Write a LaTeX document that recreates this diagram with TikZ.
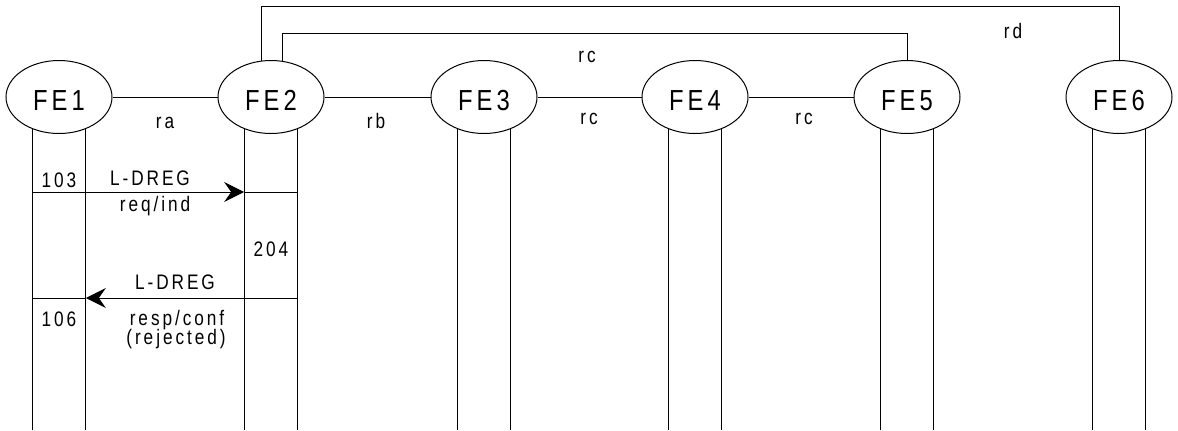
\documentclass[tikz,border=0pt]{standalone}
\usepackage{fontspec}
\setmainfont{Liberation Sans}[FakeStretch=0.82,LetterSpace=14]
\usetikzlibrary{shapes.geometric,arrows.meta}
\begin{document}
\begin{tikzpicture}[x=0.5pt,y=-0.5pt,
  fe/.style={draw, ellipse, line width=0.5pt, minimum width=53pt, minimum height=36.5pt,
             inner sep=0pt, text height=13.4pt, text depth=0pt,
             font=\fontsize{14.5}{17}\selectfont},
  lbl/.style={anchor=base, inner sep=0pt, font=\fontsize{10.5}{12}\selectfont},
  wire/.style={line width=0.5pt},
  msg/.style={line width=0.5pt, -{Stealth[length=10pt,width=10pt,inset=3.5pt]}}]
\useasboundingbox (0,0) rectangle (1178,430);

% functional entities
\node[fe] (fe1) at (59,97)   {FE1};
\node[fe] (fe2) at (271,97)  {FE2};
\node[fe] (fe3) at (484,97)  {FE3};
\node[fe] (fe4) at (695,97)  {FE4};
\node[fe] (fe5) at (907,97)  {FE5};
\node[fe] (fe6) at (1119,97) {FE6};

% reference levels
\coordinate (bot)  at (0,430);
\coordinate (ytop) at (0,6);
\coordinate (ymid) at (0,33);
\coordinate (m1)   at (0,192);
\coordinate (m2)   at (0,298);

% relationships between entities
\draw[wire] (fe1) -- (fe2);
\draw[wire] (fe2) -- (fe3);
\draw[wire] (fe3) -- (fe4);
\draw[wire] (fe4) -- (fe5);
\draw[wire] (fe2.105.6) -- (fe2.105.6 |- ytop) -| (fe6.north);
\draw[wire] (fe2.72.9) -- (fe2.72.9 |- ymid) -| (fe5.north);

\node[lbl] (ra)  at (165,128) {ra};
\node[lbl] (rb)  at (376,128) {rb};
\node[lbl] (rc1) at (589,124) {rc};
\node[lbl] (rc2) at (804,124) {rc};
\node[lbl] (rc3) at (587,62)  {rc};
\node[lbl] (rd)  at (1013,38) {rd};

% life lines
\foreach \i in {1,...,6} {
  \coordinate (la\i) at (fe\i.-130 |- bot);
  \coordinate (lb\i) at (fe\i.-50 |- bot);
  \draw[wire] (fe\i.-130) -- (la\i);
  \draw[wire] (fe\i.-50) -- (lb\i);
}

% L-DREG req/ind
\draw[wire] (la1|-m1) -- (lb1|-m1);
\draw[msg]  (lb1|-m1) -- (la2|-m1);
\draw[wire] (la2|-m1) -- (lb2|-m1);

% L-DREG resp/conf
\draw[wire] (lb2|-m2) -- (la2|-m2);
\draw[msg]  (la2|-m2) -- (lb1|-m2);
\draw[wire] (lb1|-m2) -- (la1|-m2);

\node[lbl] (n103) at (59,187)  {103};
\node[lbl] (req)  at (150,185) {L-DREG};
\node[lbl] (reqi) at (155,211) {req/ind};
\node[lbl] (n204) at (271,256) {204};
\node[lbl] (rsp)  at (175,289) {L-DREG};
\node[lbl] (n106) at (59,326)  {106};
\node[lbl] (rspc) at (177,325) {resp/conf};
\node[lbl] (rej)  at (176,344) {(rejected)};
\end{tikzpicture}
\end{document}
